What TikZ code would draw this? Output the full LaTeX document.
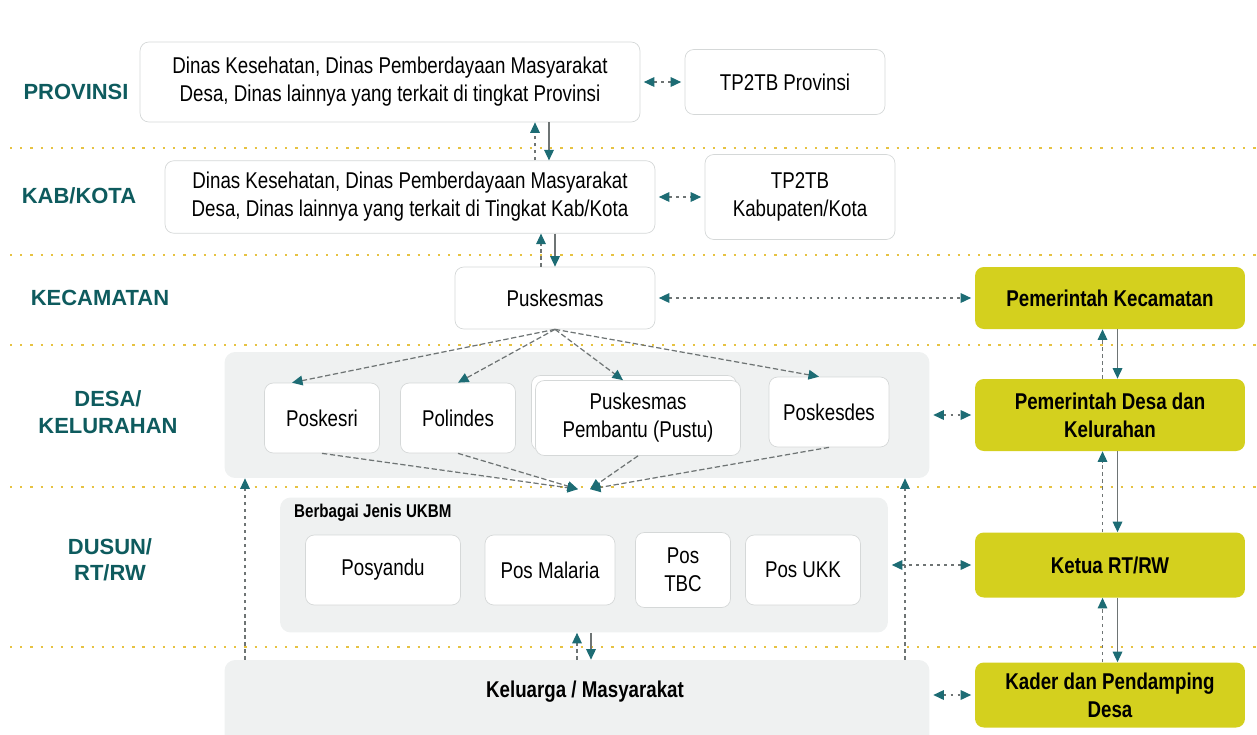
\documentclass[tikz,border=0pt]{standalone}
\usepackage{fontspec}
\setmainfont{Liberation Sans}
\newfontfamily\narrow[FakeStretch=0.82]{Liberation Sans}
\usetikzlibrary{arrows.meta}
\definecolor{lvteal}{HTML}{0E5B5E}
\definecolor{tipteal}{HTML}{1D6C74}
\definecolor{ylw}{HTML}{D4D01E}
\definecolor{sepgold}{HTML}{E6C242}
\definecolor{regfill}{HTML}{EFF1F1}
\definecolor{boxline}{HTML}{D5D8D8}
\definecolor{linegray}{HTML}{6E7474}
\tikzset{
  lvl/.style={text=lvteal,font=\bfseries\fontsize{12.5}{15}\selectfont,align=center},
  wbox/.style={draw=boxline,fill=white,rounded corners=5pt,align=center,inner sep=0pt,
    font=\narrow\fontsize{13}{16}\selectfont},
  ybox/.style={fill=ylw,rounded corners=5pt,align=center,inner sep=0pt,minimum width=5.4cm,
    font=\narrow\bfseries\fontsize{13}{16}\selectfont},
  region/.style={fill=regfill,rounded corners=6pt,inner sep=0pt},
  sepline/.style={sepgold,line width=1.3pt,dash pattern=on 1.3pt off 4.5pt},
  link/.style={linegray,line width=0.7pt,dash pattern=on 1.5pt off 2.5pt,<->,shorten <=2pt,shorten >=2pt},
  uplink/.style={linegray,line width=0.6pt,dash pattern=on 2pt off 2pt,->},
  downlink/.style={linegray,line width=0.7pt,->},
  fan/.style={linegray,line width=0.7pt,dash pattern=on 3pt off 1.5pt,->},
  >={Triangle[length=6pt,width=5.5pt,color=tipteal]}
}
\begin{document}
\begin{tikzpicture}[x=0.02cm,y=-0.02cm]
  \useasboundingbox (0,0) rectangle (1257,734);
  \foreach \y in {148,255,345,487,647}
    \draw[sepline] (10,\y) -- (1257,\y);
  % levels
  \node[lvl] (lprov) at (76,92) {PROVINSI};
  \node[lvl] (lkab) at (79,196) {KAB/KOTA};
  \node[lvl] (lkec) at (100,298) {KECAMATAN};
  \node[lvl] (ldesa) at (108,412) {DESA/\\KELURAHAN};
  \node[lvl] (ldusun) at (110,560) {DUSUN/\\RT/RW};
  % background areas
  \node[region,minimum width=14.1cm,minimum height=2.52cm] (desa) at (577,415) {};
  \node[region,minimum width=12.16cm,minimum height=2.7cm] (ukbm) at (584,565) {};
  \node[region,minimum width=14.1cm,minimum height=2cm] (kel) at (577,710) {};
  \node[anchor=west,font=\narrow\bfseries\fontsize{10.5}{12}\selectfont] (ukbmtitle) at (288,513) {Berbagai Jenis UKBM};
  \node[font=\narrow\bfseries\fontsize{13}{15}\selectfont] (keltext) at (585,692) {Keluarga / Masyarakat};
  % boxes
  \node[wbox,minimum width=10cm,minimum height=1.6cm] (dinasprov) at (390,82)
    {Dinas Kesehatan, Dinas Pemberdayaan Masyarakat\\Desa, Dinas lainnya yang terkait di tingkat Provinsi};
  \node[wbox,minimum width=4cm,minimum height=1.3cm] (tpprov) at (785,82) {TP2TB Provinsi};
  \node[wbox,minimum width=9.8cm,minimum height=1.45cm] (dinaskab) at (410,197)
    {Dinas Kesehatan, Dinas Pemberdayaan Masyarakat\\Desa, Dinas lainnya yang terkait di Tingkat Kab/Kota};
  \node[wbox,minimum width=3.8cm,minimum height=1.7cm] (tpkab) at (800,197) {TP2TB\\Kabupaten/Kota};
  \node[wbox,minimum width=4cm,minimum height=1.24cm] (pusk) at (555,298) {Puskesmas};
  \node[wbox,minimum width=2.3cm,minimum height=1.4cm] (poskesri) at (322,418) {Poskesri};
  \node[wbox,minimum width=2.3cm,minimum height=1.4cm] (polindes) at (458,418) {Polindes};
  \node[wbox,minimum width=4.1cm,minimum height=1.5cm] (pustuback) at (634,413) {};
  \node[wbox,minimum width=4.1cm,minimum height=1.5cm] (pustu) at (638,418) {Puskesmas\\Pembantu (Pustu)};
  \node[wbox,minimum width=2.4cm,minimum height=1.4cm] (poskesdes) at (829,412) {Poskesdes};
  \node[wbox,minimum width=3.1cm,minimum height=1.4cm] (posyandu) at (383,570) {Posyandu};
  \node[wbox,minimum width=2.6cm,minimum height=1.4cm] (malaria) at (550,570) {Pos Malaria};
  \node[wbox,minimum width=1.9cm,minimum height=1.5cm] (tbc) at (683,570) {Pos\\TBC};
  \node[wbox,minimum width=2.3cm,minimum height=1.4cm] (ukk) at (803,570) {Pos UKK};
  \node[ybox,minimum height=1.24cm] (kecy) at (1110,298) {Pemerintah Kecamatan};
  \node[ybox,minimum height=1.44cm] (desay) at (1110,415) {Pemerintah Desa dan\\Kelurahan};
  \node[ybox,minimum height=1.3cm] (ketuay) at (1110,565) {Ketua RT/RW};
  \node[ybox,minimum height=1.3cm] (kadery) at (1110,695) {Kader dan Pendamping\\Desa};
  % connectors
  \draw[link] (dinasprov) -- (tpprov);
  \draw[link] (dinaskab) -- (tpkab);
  \draw[link] (pusk) -- (kecy);
  \draw[link] (desa.east) -- (desay.west);
  \draw[link] (ukbm.east) -- (ketuay.west);
  \draw[link] (kadery.west -| kel.east) -- (kadery.west);
  \coordinate (v1) at (535,0);
  \coordinate (v2) at (549,0);
  \coordinate (v3) at (541,0);
  \coordinate (v4) at (555,0);
  \coordinate (v5) at (577,0);
  \coordinate (v6) at (591,0);
  \coordinate (v7) at (245,0);
  \coordinate (v8) at (905,0);
  \draw[uplink] (dinaskab.north -| v1) -- (dinasprov.south -| v1);
  \draw[downlink] (dinasprov.south -| v2) -- (dinaskab.north -| v2);
  \draw[uplink] (pusk.north -| v3) -- (dinaskab.south -| v3);
  \draw[downlink] (dinaskab.south -| v4) -- (pusk.north -| v4);
  \draw[uplink] (kel.north -| v5) -- (ukbm.south -| v5);
  \draw[downlink] (ukbm.south -| v6) -- (kel.north -| v6);
  \draw[uplink] (kel.north -| v7) -- (desa.south -| v7);
  \draw[uplink] (kel.north -| v8) -- (desa.south -| v8);
  \foreach \a/\b in {kecy/desay,desay/ketuay,ketuay/kadery} {
    \draw[uplink] ([xshift=-0.15cm]\b.north) -- ([xshift=-0.15cm]\a.south);
    \draw[downlink] ([xshift=0.15cm]\a.south) -- ([xshift=0.15cm]\b.north);
  }
  \foreach \t/\s in {poskesri/-0.6,polindes/0,pustu/-0.3,poskesdes/-0.2}
    \draw[fan] (pusk.south) -- ([xshift=\s cm]\t.north);
  \coordinate (mrg) at ([yshift=0.16cm]ukbm.north);
  \foreach \t in {poskesri,polindes}
    \draw[fan] (\t.south) -- ([xshift=-0.12cm]mrg);
  \foreach \t in {pustu,poskesdes}
    \draw[fan] (\t.south) -- ([xshift=0.12cm]mrg);
\end{tikzpicture}
\end{document}
